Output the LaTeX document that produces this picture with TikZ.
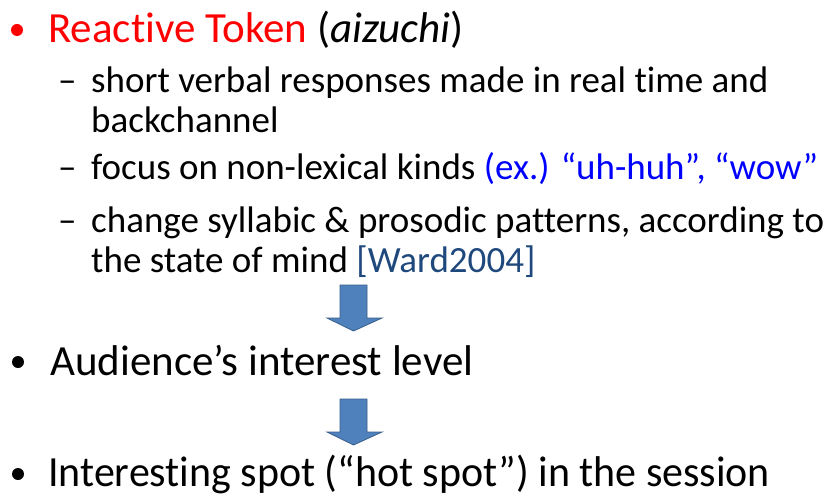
\documentclass[tikz,border=0pt]{standalone}
\usepackage{fontspec}
\setmainfont{Carlito}[Ligatures=NoCommon]
\definecolor{keyred}{RGB}{255,0,0}
\definecolor{exblue}{RGB}{0,0,255}
\definecolor{citeblue}{RGB}{31,73,125}
\definecolor{arrowfill}{RGB}{79,129,189}
\definecolor{arrowedge}{RGB}{56,93,138}
\begin{document}
\begin{tikzpicture}[x=1pt,y=-1pt,
  toplevel/.style={anchor=base west, inner sep=0pt, font=\fontsize{43}{50}\selectfont},
  sublevel/.style={anchor=base west, inner sep=0pt, font=\fontsize{37}{42}\selectfont},
  blockarrow/.style={fill=arrowfill, draw=arrowedge, line width=0.8pt, line join=miter}]
\useasboundingbox (0,0) rectangle (832,497);

% first bullet with its sub-points
\fill[keyred] (17,30) circle (6);
\node[toplevel] (token) at (48,43) {\textcolor{keyred}{Reactive Token} (\textit{aizuchi})};

\node[sublevel] (d1) at (58,93) {–};
\node[sublevel] (s1a) at (91,93) {short verbal responses made in real time and};
\node[sublevel] (s1b) at (91,133) {backchannel};
\node[sublevel] (d2) at (58,180) {–};
\node[sublevel] (s2) at (91,180) {focus on non-lexical kinds \textcolor{exblue}{(ex.) “uh-huh”, “wow”}};
\node[sublevel] (d3) at (58,232) {–};
\node[sublevel] (s3a) at (91,232) {change syllabic \& prosodic patterns, according to};
\node[sublevel] (s3b) at (91,272) {the state of mind \textcolor{citeblue}{[Ward2004]}};

% block arrow to the second bullet
\draw[blockarrow] (340,285) -- (367,285) -- (367,318) -- (382,318) -- (353.5,331) -- (327,318) -- (340,318) -- cycle;

\fill[black] (18,362) circle (6);
\node[toplevel] (interest) at (50,375) {Audience’s interest level};

% block arrow to the third bullet
\draw[blockarrow] (340,399) -- (367,399) -- (367,432) -- (382,432) -- (353.5,445) -- (327,432) -- (340,432) -- cycle;

\fill[black] (18,474) circle (6);
\node[toplevel] (hotspot) at (48,486) {\resizebox{722pt}{\height}{Interesting spot (“hot spot”) in the session}};
\end{tikzpicture}
\end{document}
